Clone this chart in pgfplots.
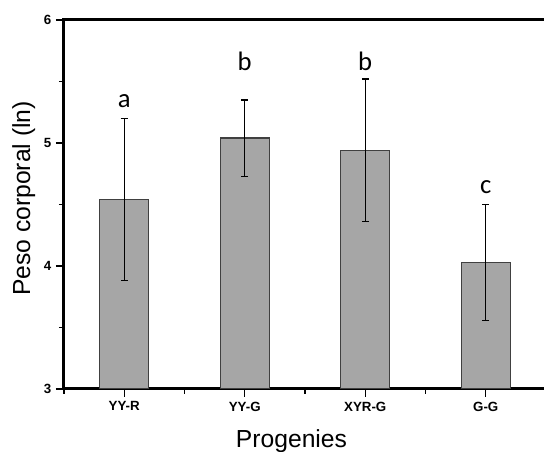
\documentclass[border=0pt]{standalone}
\usepackage{fontspec}
\setmainfont{Liberation Sans}
\newfontfamily\calib{Carlito}
\usepackage{pgfplots}
\pgfplotsset{compat=1.18}
\definecolor{barfill}{RGB}{166,166,166}
\definecolor{barline}{RGB}{64,64,64}
\newlength\pxu
\setlength\pxu{0.75pt}

\begin{document}
\begin{tikzpicture}
  \path[use as bounding box] (0,0) rectangle (544\pxu,452\pxu);
  \begin{axis}[
    at={(64\pxu,63\pxu)}, anchor=south west,
    scale only axis, width=482\pxu, height=369\pxu,
    xmin=0.5, xmax=4.5, ymin=3, ymax=6,
    xtick={1,2,3,4},
    xticklabels={YY-R,YY-G,XYR-G,G-G},
    minor xtick={0.5,1.5,2.5,3.5},
    ytick={3,4,5,6},
    minor ytick={3.5,4.5,5.5},
    tick pos=left, tick align=outside,
    major tick length=8\pxu, minor tick length=5\pxu,
    every tick/.style={black, line width=1.1pt},
    axis line style={line width=2.25pt},
    /pgf/number format/assume math mode=true,
    tick label style={font=\fontsize{10}{12}\selectfont\bfseries},
    xlabel={Progenies},
    ylabel={Peso corporal (ln)},
    label style={font=\fontsize{18.5}{22}\selectfont},
    xlabel style={at={(axis description cs:0.472,-0.1585)}, anchor=base},
    ylabel style={at={(axis description cs:-0.0705,0.516)}, anchor=base},
    ybar, bar width=49\pxu,
  ]
    \addplot[fill=barfill, draw=barline, line width=1.1pt,
      error bars/.cd, y dir=both, y explicit,
      error bar style={line width=0.9pt, black},
      error mark options={rotate=90, mark size=3.5\pxu, line width=0.9pt, black}]
      table[x=x, y=y, y error=e] {
        x y e
        1 4.54 0.66
        2 5.04 0.31
        3 4.94 0.58
        4 4.03 0.47
      };
    \node[anchor=base, font=\calib\fontsize{20}{24}\selectfont] at (axis cs:1,5.285) {a};
    \node[anchor=base, font=\calib\fontsize{20}{24}\selectfont] at (axis cs:2,5.593) {b};
    \node[anchor=base, font=\calib\fontsize{20}{24}\selectfont] at (axis cs:3,5.593) {b};
    \node[anchor=base, font=\calib\fontsize{20}{24}\selectfont] at (axis cs:4,4.593) {c};
  \end{axis}
\end{tikzpicture}
\end{document}
